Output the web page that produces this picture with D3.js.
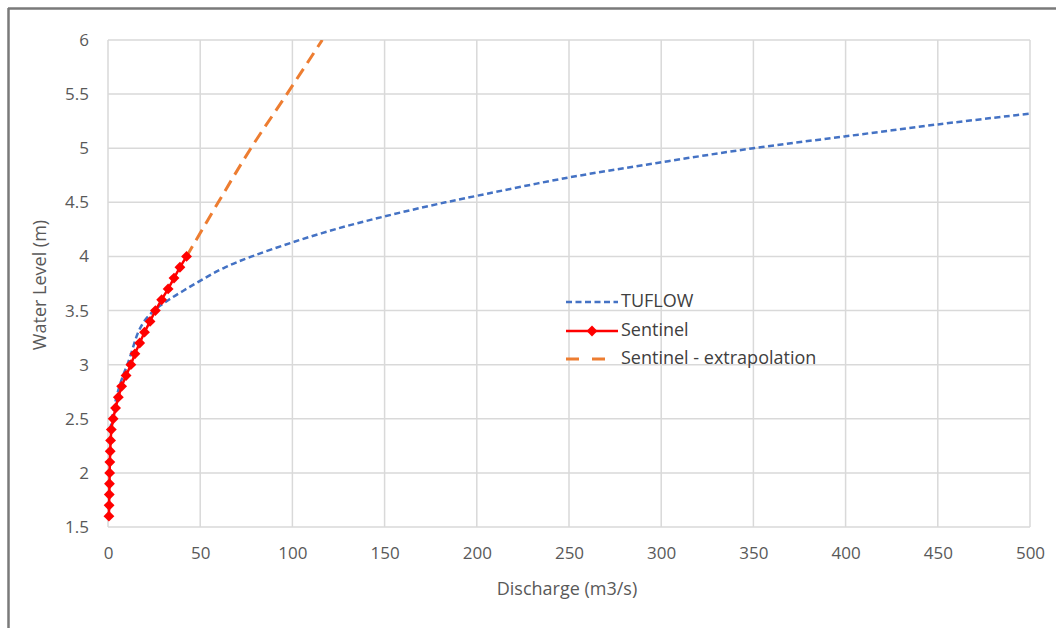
<!DOCTYPE html>
<html><head><meta charset="utf-8">
<script src="https://cdn.jsdelivr.net/npm/d3@7"></script>
<style>body{margin:0;background:#fff}svg{display:block}text{font-family:"Open Sans",Lato,sans-serif}</style>
</head><body><svg id="c" width="1056" height="628"></svg>
<script>
// ---- data ----
const xTicks = [0,50,100,150,200,250,300,350,400,450,500];
const yTicks = [1.5,2,2.5,3,3.5,4,4.5,5,5.5,6];
const seriesNames = ["TUFLOW","Sentinel","Sentinel - extrapolation"];
// TUFLOW: discharge (m3/s) and water level (m)
const tuflowQ = [1.2,2.2,3.3,4.6,6.2,8.2,10.5,12.5,14.3,16.4,19.6,25,33,42.5,52.5,63.5,78,100,125,150,175,200,250,300,350,400,450,500];
const tuflowH = [2.4,2.5,2.6,2.7,2.8,2.9,3.0,3.1,3.2,3.3,3.4,3.5,3.6,3.7,3.8,3.9,4.0,4.13,4.26,4.37,4.47,4.56,4.73,4.87,5.0,5.11,5.22,5.32];
// Sentinel
const sentinelQ = [0.5,0.6,0.7,0.8,0.9,1.0,1.2,1.4,1.8,2.8,4.1,5.6,7.4,9.8,12.4,14.6,17.2,19.8,22.8,25.7,29.1,32.6,35.8,39,42.6];
const sentinelH = [1.6,1.7,1.8,1.9,2.0,2.1,2.2,2.3,2.4,2.5,2.6,2.7,2.8,2.9,3.0,3.1,3.2,3.3,3.4,3.5,3.6,3.7,3.8,3.9,4.0];
// Sentinel extrapolation
const extrapQ = [42.6,59.8,77.5,97,116.2];
const extrapH = [4.0,4.5,5.0,5.5,6.0];

// ---- chart ----
const svg = d3.select("#c");
const x = d3.scaleLinear().domain([0,500]).range([108,1030]);
const y = d3.scaleLinear().domain([1.5,6]).range([527,40]);

// frame
svg.append("line").attr("x1",8).attr("x2",1056).attr("y1",8.5).attr("y2",8.5).attr("stroke","#7a7a7a").attr("stroke-width",2.5);
svg.append("line").attr("x1",8.5).attr("x2",8.5).attr("y1",8).attr("y2",628).attr("stroke","#7a7a7a").attr("stroke-width",2.5);

// gridlines
svg.append("g").selectAll("line").data(xTicks).join("line")
  .attr("x1",d=>x(d)).attr("x2",d=>x(d)).attr("y1",y(6)).attr("y2",y(1.5))
  .attr("stroke","#d9d9d9").attr("stroke-width",1.5);
svg.append("g").selectAll("line").data(yTicks).join("line")
  .attr("x1",x(0)).attr("x2",x(500)).attr("y1",d=>y(d)).attr("y2",d=>y(d))
  .attr("stroke","#d9d9d9").attr("stroke-width",1.5);

// axes (labels only)
const xAxis = d3.axisBottom(x).tickValues(xTicks).tickSize(0).tickPadding(0).tickFormat(d3.format("d"));
const gx = svg.append("g").attr("transform",`translate(0,${y(1.5)+26})`).call(xAxis);
gx.select(".domain").remove();
gx.selectAll("text").attr("fill","#595959").attr("font-size",17).attr("dy","0.35em").attr("y",0);
const yAxis = d3.axisLeft(y).tickValues(yTicks).tickSize(0).tickPadding(0).tickFormat(d=>String(d));
const gy = svg.append("g").attr("transform",`translate(89,0)`).call(yAxis);
gy.select(".domain").remove();
gy.selectAll("text").attr("fill","#595959").attr("font-size",17);

// titles
svg.append("text").attr("x",567).attr("y",590).attr("text-anchor","middle").attr("dominant-baseline","middle")
  .attr("font-size",18).attr("fill","#595959").text("Discharge (m3/s)");
svg.append("text").attr("transform","translate(41,285) rotate(-90)").attr("text-anchor","middle").attr("dominant-baseline","middle")
  .attr("font-size",18).attr("fill","#595959").text("Water Level (m)");

// series
svg.append("clipPath").attr("id","pc").append("rect").attr("x",x(0)-6).attr("y",y(6)).attr("width",x(500)-x(0)+6).attr("height",y(1.5)-y(6)+6);
const plot = svg.append("g").attr("clip-path","url(#pc)");
const tuflow = tuflowQ.map((q,i)=>[q,tuflowH[i]]);
const sentinel = sentinelQ.map((q,i)=>[q,sentinelH[i]]);
const extrap = extrapQ.map((q,i)=>[q,extrapH[i]]);
const lineSmooth = d3.line().x(d=>x(d[0])).y(d=>y(d[1])).curve(d3.curveCatmullRom.alpha(0.5));
const lineStraight = d3.line().x(d=>x(d[0])).y(d=>y(d[1]));

plot.append("path").attr("d",lineSmooth(tuflow)).attr("fill","none").attr("stroke","#4472c4").attr("stroke-width",2.5).attr("stroke-dasharray","6,3.5");
plot.append("path").attr("d",lineSmooth(extrap)).attr("fill","none").attr("stroke","#ed7d31").attr("stroke-width",3).attr("stroke-dasharray","12,7");
plot.append("path").attr("d",lineStraight(sentinel)).attr("fill","none").attr("stroke","#ff0000").attr("stroke-width",2.5);
const diamond = d3.symbol().type(d3.symbolDiamond2).size(75);
plot.append("g").selectAll("path").data(sentinel).join("path")
  .attr("d",diamond).attr("transform",d=>`translate(${x(d[0])},${y(d[1])})`).attr("fill","#ff0000");

// legend
const legY = [302,331,359];
const lg = svg.append("g");
lg.append("line").attr("x1",566).attr("x2",618).attr("y1",legY[0]).attr("y2",legY[0]).attr("stroke","#4472c4").attr("stroke-width",2.5).attr("stroke-dasharray","6,3.5");
lg.append("line").attr("x1",566).attr("x2",618).attr("y1",legY[1]).attr("y2",legY[1]).attr("stroke","#ff0000").attr("stroke-width",2.5);
lg.append("path").attr("d",diamond).attr("transform",`translate(592,${legY[1]})`).attr("fill","#ff0000");
lg.append("line").attr("x1",566).attr("x2",618).attr("y1",legY[2]).attr("y2",legY[2]).attr("stroke","#ed7d31").attr("stroke-width",3).attr("stroke-dasharray","13,13");
lg.selectAll("text").data(seriesNames).join("text")
  .attr("x",621).attr("y",(d,i)=>legY[i]).attr("dominant-baseline","middle")
  .attr("font-size",18).attr("fill","#404040").text(d=>d);
</script></body></html>
